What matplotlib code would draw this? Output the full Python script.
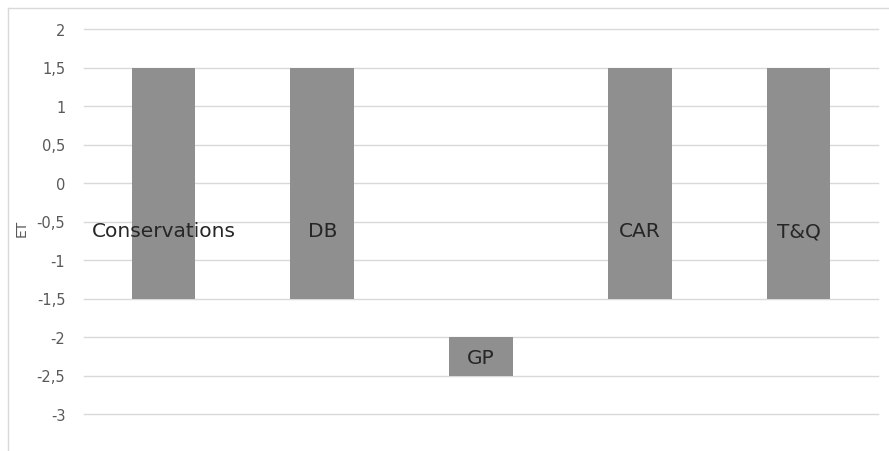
import matplotlib
matplotlib.use("Agg")
import matplotlib.pyplot as plt
from matplotlib.ticker import FuncFormatter
from matplotlib.lines import Line2D

categories = ["Conservations", "DB", "GP", "CAR", "T&Q"]
low_values = [-1.5, -1.5, -2.5, -1.5, -1.5]
high_values = [1.5, 1.5, -2.0, 1.5, 1.5]
label_levels = [-0.62, -0.62, -2.27, -0.62, -0.62]
y_ticks = [2, 1.5, 1, 0.5, 0, -0.5, -1, -1.5, -2, -2.5, -3]

plt.rcParams["font.family"] = ["DejaVu Sans"]

fig = plt.figure(figsize=(8.89, 4.52), dpi=100)
ax = fig.add_axes([84 / 889, 37 / 452, (878 - 84) / 889, (415 - 30) / 452])

x = list(range(len(categories)))
heights = [h - l for l, h in zip(low_values, high_values)]
ax.bar(x, heights, bottom=low_values, width=0.4, color="#8f8f8f", zorder=3)

ax.set_xlim(-0.5, len(categories) - 0.5)
ax.set_ylim(min(y_ticks), max(y_ticks))
ax.set_yticks(y_ticks)
ax.yaxis.set_major_formatter(FuncFormatter(lambda v, p: f"{v:g}".replace(".", ",")))
ax.grid(axis="y", color="#d9d9d9", linewidth=1.0, zorder=0)
for gl in ax.get_ygridlines():
    gl.set_clip_on(False)
ax.set_xticks([])
ax.tick_params(axis="y", length=0, labelsize=10.5, labelcolor="#595959", pad=13.5)
for s in ax.spines.values():
    s.set_visible(False)

for xi, name, ly in zip(x, categories, label_levels):
    ax.text(xi, ly, name, ha="center", va="center",
            fontsize=14.5, color="#262626", zorder=4)

fig.text(22 / 889, 1 - 228 / 452, "ET", rotation=90, ha="center", va="center",
         fontsize=10, color="#595959")

# chart frame (left and top edges)
fig.add_artist(Line2D([8 / 889, 8 / 889], [0, 1 - 9 / 452], transform=fig.transFigure,
                      color="#d9d9d9", linewidth=1.0))
fig.add_artist(Line2D([8 / 889, 1], [1 - 9 / 452, 1 - 9 / 452], transform=fig.transFigure,
                      color="#d9d9d9", linewidth=1.0))

fig.savefig("out.png", dpi=100)
